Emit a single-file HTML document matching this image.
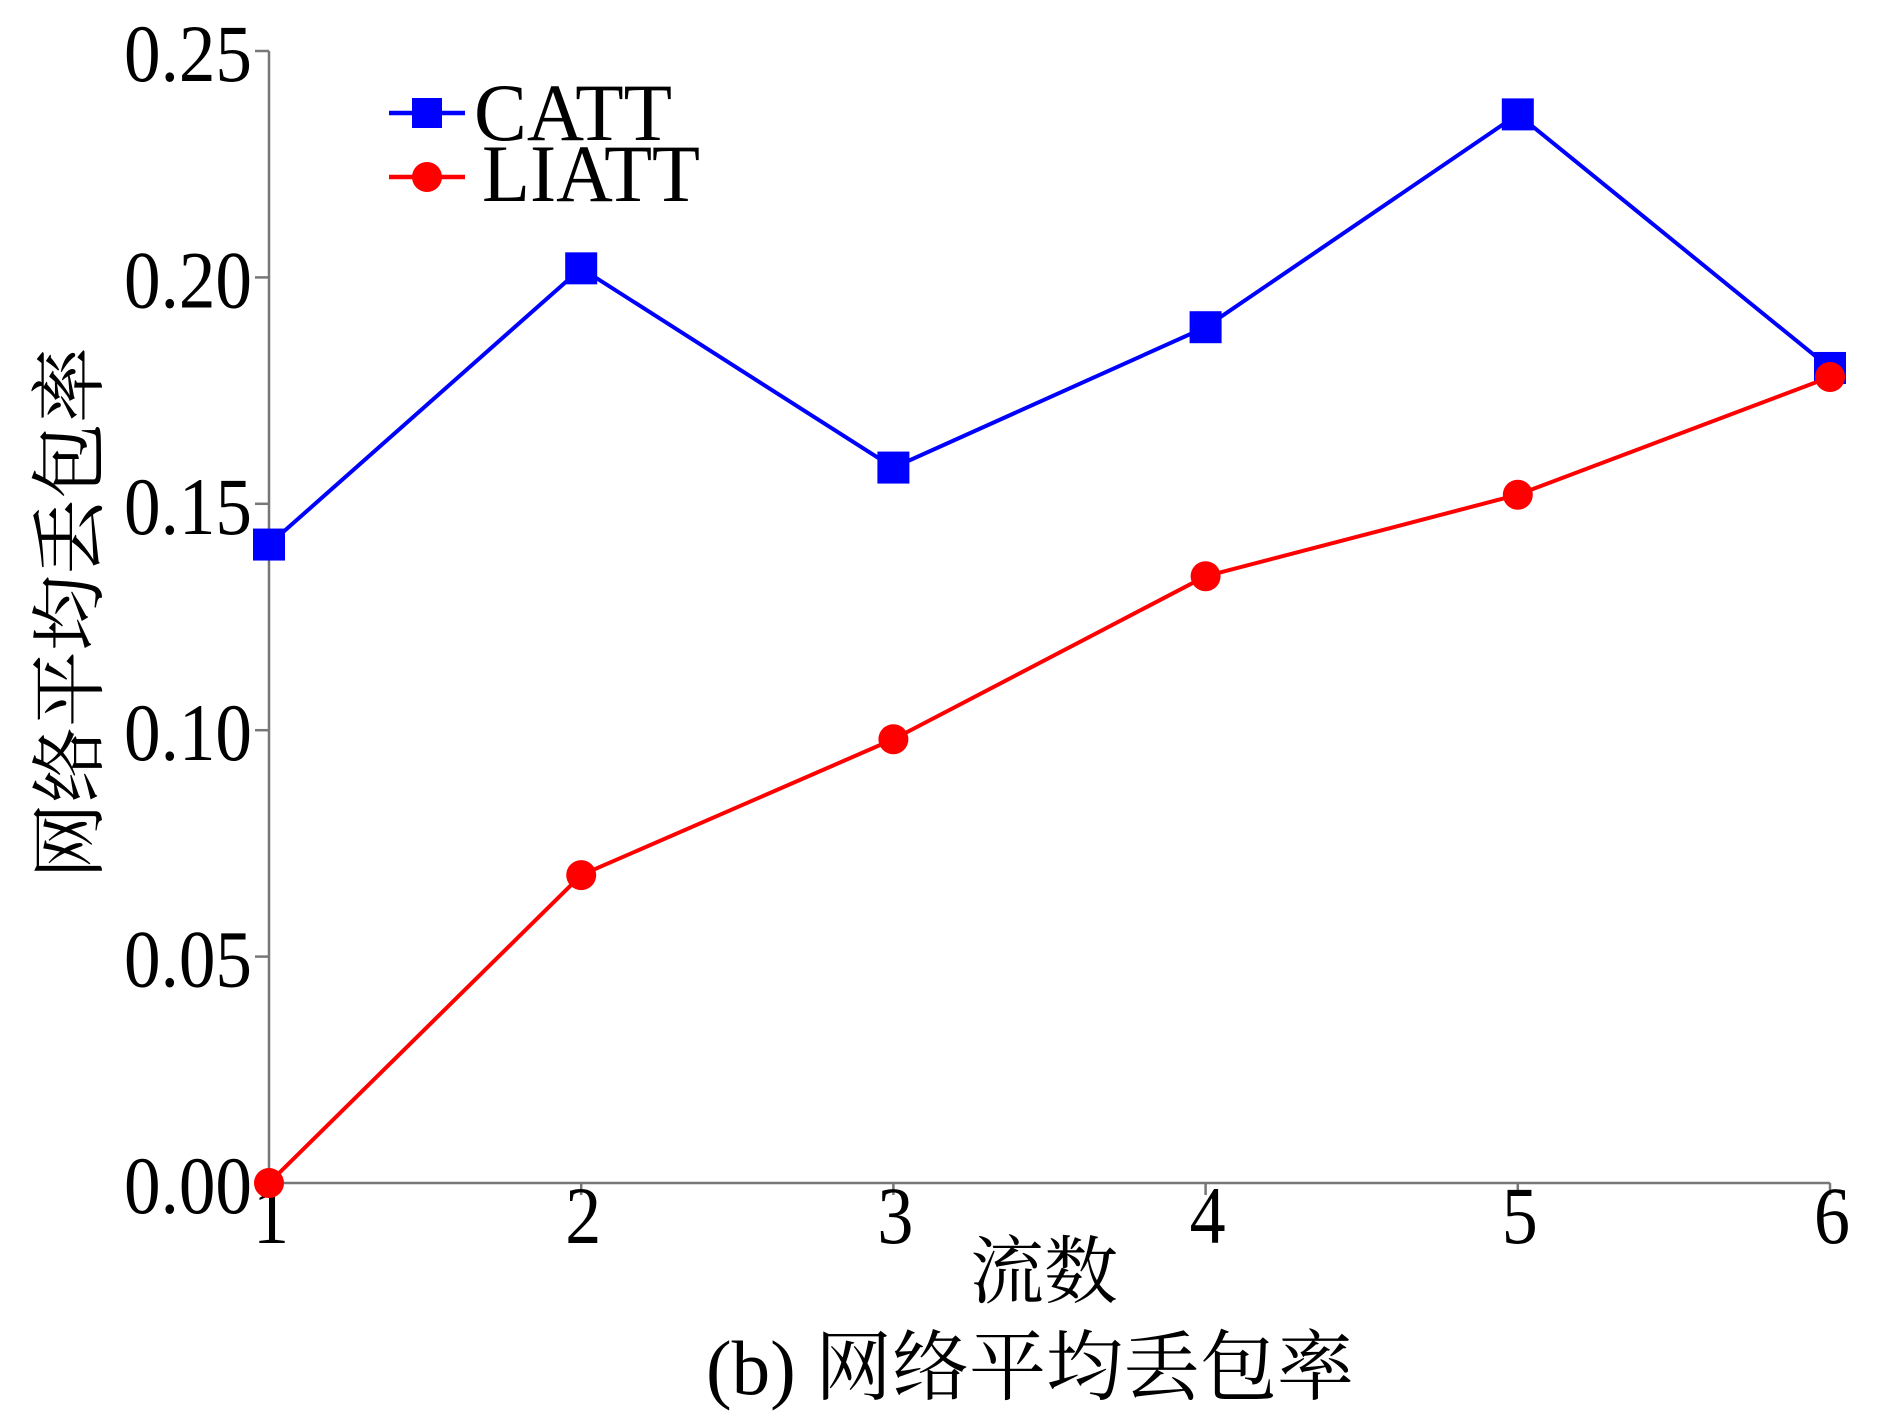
<!DOCTYPE html>
<html><head><meta charset="utf-8"><style>
html,body{margin:0;padding:0;background:#fff;}
svg text{font-family:"Liberation Serif","Noto Serif CJK SC",serif;fill:#000;}
</style></head><body>
<svg id="chart" width="1901" height="1414" viewBox="0 0 1901 1414" xmlns="http://www.w3.org/2000/svg"></svg>
<script>
const categories = [1, 2, 3, 4, 5, 6];
const cattValues = [0.141, 0.202, 0.158, 0.189, 0.236, 0.180];
const liattValues = [0.0, 0.068, 0.098, 0.134, 0.152, 0.178];
const yTicks = [0, 0.05, 0.10, 0.15, 0.20, 0.25];
const yTickLabels = ["0.00", "0.05", "0.10", "0.15", "0.20", "0.25"];

const svg = document.getElementById('chart');
const NS = 'http://www.w3.org/2000/svg';
const X0 = 269, X1 = 1830, Y0 = 1183, Y1 = 51;
function xs(v){ return X0 + (v - 1) / 5 * (X1 - X0); }
function ys(v){ return Y0 - v / 0.25 * (Y0 - Y1); }
function mk(tag, attrs, parent){
  const e = document.createElementNS(NS, tag);
  for (const k in attrs) e.setAttribute(k, attrs[k]);
  (parent || svg).appendChild(e);
  return e;
}

let a = mk('line', {x1:X0, y1:Y1, x2:X0, y2:Y0, stroke:'#777', 'stroke-width':2.5});


a = mk('line', {x1:X0, y1:Y0, x2:X1, y2:Y0, stroke:'#777', 'stroke-width':2.5});



yTicks.forEach((v, i) => {
  const t = mk('line', {x1:X0 - 14, y1:ys(v), x2:X0, y2:ys(v), stroke:'#777', 'stroke-width':2.5});
  
  
  const l = mk('text', {x:124, y:ys(v) + 30, 'font-size':82, textLength:128, lengthAdjust:'spacingAndGlyphs'});
  l.textContent = yTickLabels[i];
  
  
});
categories.forEach(c => {
  const t = mk('line', {x1:xs(c), y1:Y0, x2:xs(c), y2:Y0 + 12, stroke:'#777', 'stroke-width':2.5});
  
  
  const l = mk('text', {x:xs(c) + 2, y:1243, 'text-anchor':'middle', 'font-size':82, textLength:36, lengthAdjust:'spacingAndGlyphs'});
  l.textContent = String(c);
  
  
});

function series(vals, color, shape, name){
  const g = mk('g', {});
  
  
  const p = mk('polyline', {points: vals.map((v, i) => xs(categories[i]) + ',' + ys(v)).join(' '), fill:'none', stroke:color, 'stroke-width':4}, g);
  
  
  vals.forEach((v, i) => {
    let m;
    if (shape === 'square') m = mk('rect', {x:xs(categories[i]) - 16, y:ys(v) - 16, width:32, height:32, fill:color}, g);
    else m = mk('circle', {cx:xs(categories[i]), cy:ys(v), r:15, fill:color}, g);
    
    
  });
}
series(cattValues, '#0000ff', 'square', 'catt');
series(liattValues, '#ff0000', 'circle', 'liatt');

const lg = mk('g', {});


let e = mk('line', {x1:389, y1:113, x2:465, y2:113, stroke:'#0000ff', 'stroke-width':4.5}, lg);


e = mk('rect', {x:412, y:98, width:30, height:30, fill:'#0000ff'}, lg);


e = mk('text', {x:474, y:140, 'font-size':82, textLength:198, lengthAdjust:'spacingAndGlyphs'}, lg);
e.textContent = 'CATT';


e = mk('line', {x1:389, y1:177, x2:465, y2:177, stroke:'#ff0000', 'stroke-width':4.5}, lg);


e = mk('circle', {cx:427, cy:177, r:15, fill:'#ff0000'}, lg);


e = mk('text', {x:482, y:201, 'font-size':82, textLength:218, lengthAdjust:'spacingAndGlyphs'}, lg);
e.textContent = 'LIATT';



e = mk('text', {x:1044, y:1297, 'text-anchor':'middle', 'font-size':74});
e.textContent = '流数';


e = mk('text', {x:0, y:0, 'text-anchor':'middle', 'font-size':76, transform:'translate(96,613) rotate(-90)'});
e.textContent = '网络平均丢包率';


e = mk('text', {x:1030, y:1394, 'text-anchor':'middle', 'font-size':77});
e.textContent = '(b) 网络平均丢包率';


</script>
</body></html>
